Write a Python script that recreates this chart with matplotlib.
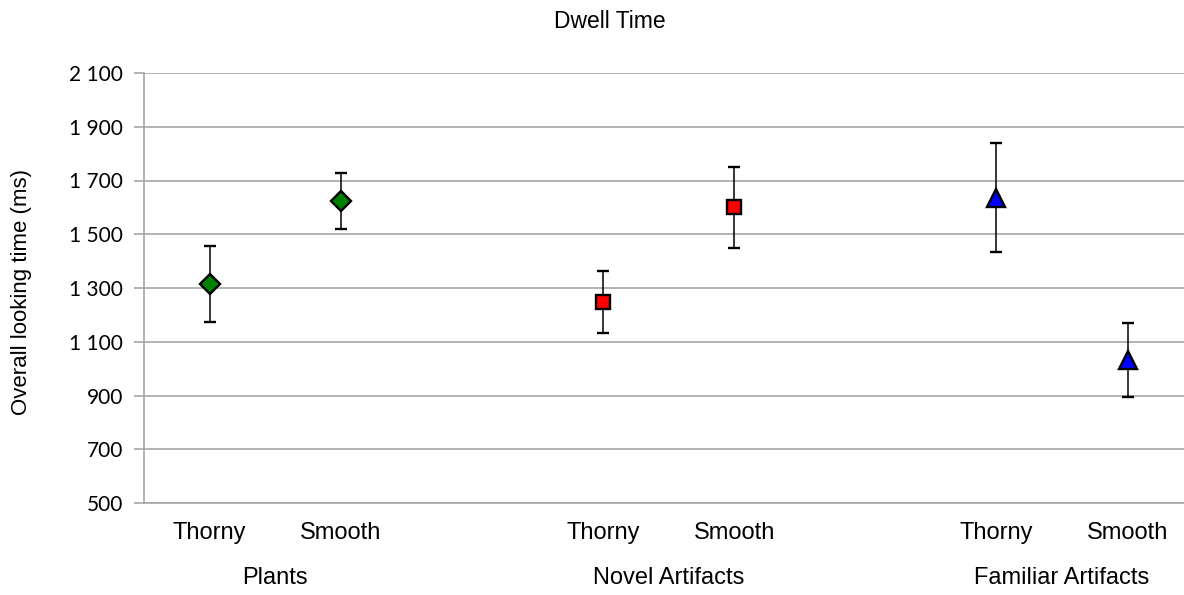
import matplotlib
matplotlib.use("Agg")
import matplotlib.pyplot as plt
from matplotlib.ticker import FuncFormatter

# data
groups = ["Plants", "Novel Artifacts", "Familiar Artifacts"]
conditions = ["Thorny", "Smooth"]
plants_mean = [1315, 1624]
plants_err = [141, 103]
novel_mean = [1249, 1600]
novel_err = [116, 151]
familiar_mean = [1636, 1033]
familiar_err = [202, 137]

series = [
    (plants_mean, plants_err, "D", 10, "#008000"),
    (novel_mean, novel_err, "s", 10, "#FF0000"),
    (familiar_mean, familiar_err, "^", 13, "#0000FF"),
]

GRID = "#A6A6A6"
TXT = "Liberation Sans"

fig = plt.figure(figsize=(11.84, 5.95), dpi=100)
ax = fig.add_axes([144 / 1184, 1 - 503 / 595, 1 - 144 / 1184, 430 / 595])

xpos = []
for gi, (mean, err, marker, ms, color) in enumerate(series):
    xs = [gi * 3 + k for k in range(len(mean))]
    xpos += xs
    ax.errorbar(xs, mean, yerr=err, fmt=marker, ms=ms, mfc=color, mec="black",
                mew=1.7, ecolor="black", elinewidth=1.1, capsize=4.5,
                capthick=1.1, zorder=3)
    ax.text(sum(xs) / len(xs), -0.174, groups[gi], transform=ax.get_xaxis_transform(),
            ha="center", va="center", fontsize=17, family=TXT)

ax.set_xlim(-0.5, 7.43)
ax.set_ylim(500, 2100)
ax.set_yticks(range(500, 2101, 200))
ax.yaxis.set_major_formatter(FuncFormatter(lambda v, p: f"{v:,.0f}".replace(",", " ")))
ax.set_xticks(xpos)
ax.set_xticklabels(conditions * len(groups), fontsize=17, family=TXT)
ax.tick_params(axis="x", length=0, pad=14)
ax.tick_params(axis="y", length=7, width=1.2, color=GRID, labelsize=15, pad=8)
for lab in ax.get_yticklabels():
    lab.set_family("Lato")

ax.grid(axis="y", color=GRID, linewidth=1.2)
ax.set_axisbelow(True)
for s in ["top", "right"]:
    ax.spines[s].set_visible(False)
for s in ["left", "bottom"]:
    ax.spines[s].set_color(GRID)
    ax.spines[s].set_linewidth(1.2)

fig.text(610 / 1184, 1 - 22 / 595, "Dwell Time", ha="center", va="center", fontsize=16.5, family=TXT)
fig.text(22 / 1184, 1 - 292 / 595, "Overall looking time (ms)", rotation=90,
         ha="center", va="center", fontsize=16, family=TXT)

fig.savefig("out.png", dpi=100)
